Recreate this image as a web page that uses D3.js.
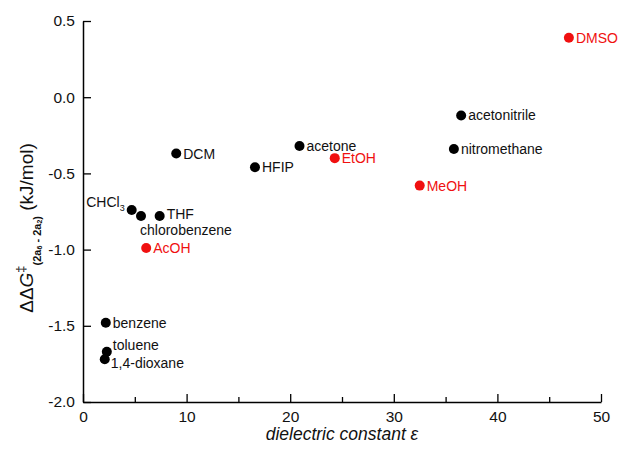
<!DOCTYPE html>
<html>
<head>
<meta charset="utf-8">
<script src="https://d3js.org/d3.v7.min.js"></script>
<style>
  body { margin: 0; background: #fff; }
  text { font-family: "Liberation Sans", Arial, sans-serif; }
</style>
</head>
<body>
<svg id="chart"></svg>
<script>
// solvents, dielectric constant and ΔΔG‡
var solvents = ["DMSO", "acetonitrile", "nitromethane", "MeOH", "EtOH", "acetone", "HFIP", "DCM",
                "CHCl3", "chlorobenzene", "THF", "AcOH", "benzene", "toluene", "1,4-dioxane"];
var epsilon  = [46.9, 36.5, 35.8, 32.5, 24.3, 20.9, 16.6, 9.0, 4.7, 5.6, 7.4, 6.1, 2.2, 2.3, 2.1];
var ddG      = [0.39, -0.12, -0.34, -0.58, -0.40, -0.32, -0.46, -0.37, -0.74, -0.78, -0.78, -0.99, -1.48, -1.67, -1.72];
var protic   = ["DMSO", "MeOH", "EtOH", "AcOH"];   // drawn in red

var xTicks = [0, 10, 20, 30, 40, 50],
    xMinor = [5, 15, 25, 35, 45],
    yTicks = [0.5, 0.0, -0.5, -1.0, -1.5, -2.0];

var margin = {top: 21, right: 18, bottom: 48, left: 83},
    W = 619, H = 450,
    width = W - margin.left - margin.right,
    height = H - margin.top - margin.bottom;

var x = d3.scaleLinear().domain([0, 50]).range([0, width]),
    y = d3.scaleLinear().domain([-2, 0.5]).range([height, 0]);

var svg = d3.select("#chart").attr("width", W).attr("height", H);
var g = svg.append("g").attr("transform", "translate(" + margin.left + "," + margin.top + ")");

// label placement (dx, dy from dot centre, anchor)
var place = {
  "chlorobenzene": [-1, 19, "start"],
  "THF": [7, 3, "start"],
  "CHCl3": [-7, -3, "end"],
  "toluene": [6, -2, "start"],
  "1,4-dioxane": [6, 9, "start"]
};

var data = solvents.map(function(s, i) { return {name: s, e: epsilon[i], g: ddG[i]}; });

// hyphen minus like the original, not the unicode minus
var fmt1 = function(d) { return d.toFixed(1); };

// axes, ticks pointing inward
g.append("g").attr("transform", "translate(0," + height + ")")
    .call(d3.axisBottom(x).tickValues(xMinor).tickSizeInner(-5).tickSizeOuter(0).tickFormat(""))
    .call(function(a) { a.select(".domain").remove(); a.selectAll("text").remove(); });

var xAxis = g.append("g").attr("transform", "translate(0," + height + ")")
    .call(d3.axisBottom(x).tickValues(xTicks).tickSizeInner(-8).tickSizeOuter(0).tickPadding(9).tickFormat(d3.format("d")));

var yAxis = g.append("g")
    .call(d3.axisLeft(y).tickValues(yTicks).tickSizeInner(-8).tickSizeOuter(0).tickPadding(8).tickFormat(fmt1));

svg.selectAll(".domain").attr("stroke", "#000").attr("stroke-width", 1.5);
svg.selectAll(".tick line").attr("stroke", "#000").attr("stroke-width", 1.3);
svg.selectAll(".tick text").attr("font-size", 15.5).attr("fill", "#111")
    .attr("font-family", "Liberation Sans, Arial, sans-serif");

// points
var pts = g.selectAll(".pt").data(data).enter().append("g").attr("class", "pt")
    .attr("transform", function(d) { return "translate(" + x(d.e) + "," + y(d.g) + ")"; });

pts.append("circle").attr("r", 5)
    .attr("fill", function(d) { return protic.indexOf(d.name) >= 0 ? "#f01010" : "#000"; });

pts.each(function(d) {
  var p = place[d.name] || [7, 5, "start"];
  var t = d3.select(this).append("text")
      .attr("x", p[0]).attr("y", p[1])
      .attr("text-anchor", p[2])
      .attr("font-size", 14)
      .attr("fill", protic.indexOf(d.name) >= 0 ? "#f01010" : "#111");
  if (d.name === "CHCl3") {
    t.append("tspan").text("CHCl");
    t.append("tspan").attr("font-size", 9).attr("dy", 4).text("3");
  } else {
    t.text(d.name);
  }
});

// axis titles
svg.append("text")
    .attr("x", margin.left + width / 2).attr("y", 440)
    .attr("text-anchor", "middle").attr("font-size", 17.5).attr("font-style", "italic").attr("fill", "#111")
    .text("dielectric constant ε");

var yl = svg.append("text")
    .attr("transform", "translate(33,228) rotate(-90)")
    .attr("text-anchor", "middle").attr("font-size", 19).attr("fill", "#111");
yl.append("tspan").text("ΔΔ");
yl.append("tspan").attr("font-style", "italic").text("G");
yl.append("tspan").attr("font-size", 13).attr("dy", -8).text("‡");
yl.append("tspan").attr("font-size", 11).attr("dy", 16).attr("font-weight", "bold").text("(2a");
yl.append("tspan").attr("font-size", 7).attr("dy", 1).attr("font-weight", "bold").text("6");
yl.append("tspan").attr("font-size", 11).attr("dy", -1).attr("font-weight", "bold").text(" - 2a");
yl.append("tspan").attr("font-size", 7).attr("dy", 1).attr("font-weight", "bold").text("2");
yl.append("tspan").attr("font-size", 11).attr("dy", -1).attr("font-weight", "bold").text(")");
yl.append("tspan").attr("dy", -8).text(" (kJ/mol)");
</script>
</body>
</html>
